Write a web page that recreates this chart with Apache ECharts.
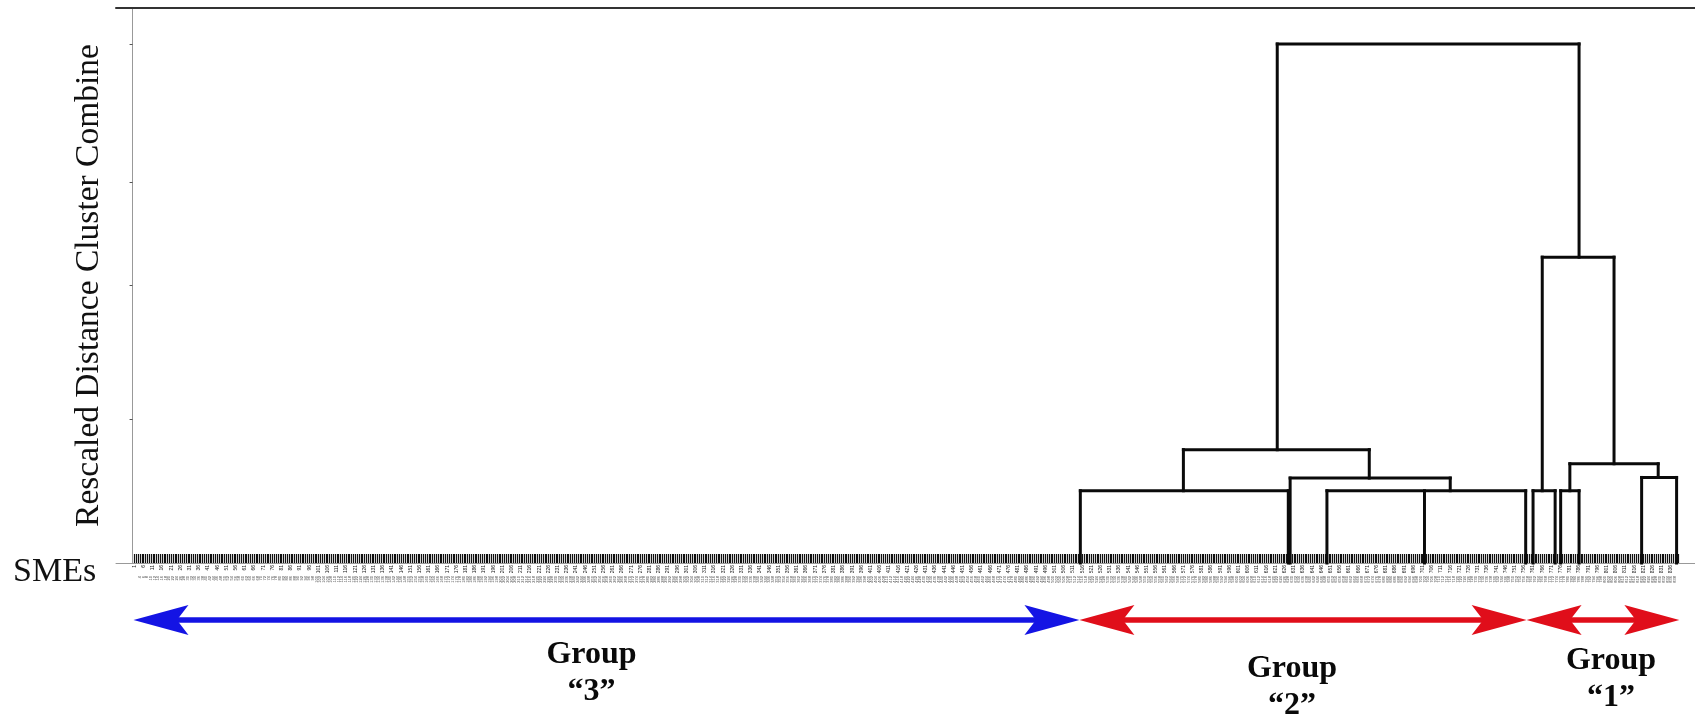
<!DOCTYPE html>
<html><head><meta charset="utf-8">
<script src="https://cdn.jsdelivr.net/npm/echarts@6/dist/echarts.min.js"></script>
<style>html,body{margin:0;padding:0;background:#fff}#c{width:1695px;height:717px}</style>
</head><body><div id="c"></div>
<script>
// ---- data ----
const leafCount = 840;
const smeLabels = Array.from({length: leafCount}, (_, i) => String(i + 1));
const leafPositions = smeLabels.map((_, i) => i + 1);

// dendrogram merge nodes (x = leaf index units, height = rescaled distance)
const nodeNames    = ['Top', 'A', 'B', 'C', 'D', 'E', 'F', 'G', 'H', 'I'];
const nodeHeights  = [25, 5.46, 3.48, 4.09, 3.48, 14.73, 3.48, 4.78, 3.48, 4.12];
const nodeStemX    = [704, 622, 571, 672, 716, 786, 766, 805, 781, 829];
const nodeChildren = [['A', 'E'], ['B', 'C'], [515, 628], [629, 'D'], [649, 702, 757],
                      ['F', 'G'], [761, 773], ['H', 'I'], [776, 786], [820, 839]];

const groupNames = ['Group\n\u201C3\u201D', 'Group\n\u201C2\u201D', 'Group\n\u201C1\u201D'];
const groupStart = [1, 515, 758];
const groupEnd   = [514, 757, 840];

const yTickValues = [6.94, 13.36, 18.34, 25];

// ---- layout / style ----
const groupColors = ['rgb(20,20,228)', 'rgb(224,14,26)', 'rgb(224,14,26)'];
const labelDx = [-15, -11, 8];
const labelDy = [16, 30, 22];
const SERIF = '"Liberation Serif", "Times New Roman", serif';

const chart = echarts.init(document.getElementById('c'), null, {renderer: 'canvas'});

function childInfo(c) {
  if (typeof c === 'string') {
    const k = nodeNames.indexOf(c);
    return {x: nodeStemX[k], h: nodeHeights[k]};
  }
  return {x: c, h: 0};
}

const lineStyle = {stroke: '#0a0a0a', lineWidth: 3, lineCap: 'square'};

chart.setOption({
  animation: false,
  backgroundColor: '#fff',
  grid: {left: 116, right: 0, top: 8, bottom: 154},
  graphic: [
    {type: 'text', left: 13, top: 555,
      style: {text: 'SMEs', fontSize: 34, fontFamily: SERIF, fill: '#111'}}
  ],
  xAxis: [
    {
      type: 'value', min: -9, max: 849, position: 'bottom',
      axisLine: {show: true, lineStyle: {color: '#999', width: 1}},
      axisTick: {show: true, inside: true, length: 9, customValues: leafPositions, lineStyle: {color: '#111', width: 1.2}},
      axisLabel: {show: true, rotate: 90, fontSize: 5, margin: 2, color: '#222',
        customValues: leafPositions.filter((v, i) => i % 5 === 0),
        formatter: v => smeLabels[Math.round(v) - 1] || ''},
      splitLine: {show: false}
    },
    {
      type: 'value', min: -9, max: 849, position: 'bottom', offset: 13,
      axisLine: {show: false}, axisTick: {show: false},
      axisLabel: {show: true, rotate: 90, fontSize: 4, margin: 0, color: '#444',
        customValues: leafPositions.filter((v, i) => i % 2 === 1),
        formatter: v => smeLabels[Math.round(v) - 1] || ''},
      splitLine: {show: false}
    },
    {
      type: 'value', min: -9, max: 849, position: 'top',
      axisLine: {show: true, lineStyle: {color: '#333', width: 2}},
      axisTick: {show: false}, axisLabel: {show: false}, splitLine: {show: false}
    }
  ],
  yAxis: {
    type: 'value', min: 0, max: 26.73,
    name: 'Rescaled Distance Cluster Combine', nameLocation: 'middle', nameGap: 10, nameRotate: 90,
    nameTextStyle: {fontSize: 33.5, fontFamily: SERIF, color: '#111'},
    axisLine: {show: true, lineStyle: {color: '#999', width: 1}},
    axisTick: {show: true, length: 3, customValues: yTickValues, lineStyle: {color: '#555'}},
    axisLabel: {show: false},
    splitLine: {show: false}
  },
  series: [
    {
      type: 'custom', name: 'dendrogram', xAxisIndex: 0,
      data: nodeNames.map((n, i) => [nodeStemX[i], nodeHeights[i]]),
      encode: {x: 0, y: 1},
      renderItem: function (params, api) {
        const i = params.dataIndex;
        const h = nodeHeights[i];
        const kids = nodeChildren[i].map(childInfo);
        const xs = kids.map(k => k.x);
        const a = api.coord([Math.min.apply(null, xs), h]);
        const b = api.coord([Math.max.apply(null, xs), h]);
        const children = [{type: 'line', shape: {x1: a[0], y1: a[1], x2: b[0], y2: b[1]}, style: lineStyle}];
        kids.forEach(k => {
          const p = api.coord([k.x, k.h]);
          const q = api.coord([k.x, h]);
          children.push({type: 'line', shape: {x1: p[0], y1: p[1], x2: q[0], y2: q[1]}, style: lineStyle});
        });
        return {type: 'group', children: children};
      }
    },
    {
      type: 'custom', name: 'groups', xAxisIndex: 0, clip: false,
      data: groupStart.map((s, i) => [s, groupEnd[i], 0]),
      encode: {x: [0, 1], y: 2},
      renderItem: function (params, api) {
        const i = params.dataIndex;
        const p1 = api.coord([groupStart[i] - 0.5, 0]);
        const p2 = api.coord([groupEnd[i] + 0.5, 0]);
        const y = p1[1] + 57;
        const L = 55, H = 14, N = 0.79;
        const color = groupColors[i];
        const x1 = p1[0], x2 = p2[0];
        const cx = (x1 + x2) / 2;
        return {
          type: 'group',
          children: [
            {type: 'line', shape: {x1: x1 + L * 0.7, y1: y, x2: x2 - L * 0.7, y2: y}, style: {stroke: color, lineWidth: 5.5}},
            {type: 'polygon', shape: {points: [[x1, y], [x1 + L, y - H - 1], [x1 + L * N, y], [x1 + L, y + H + 1]]}, style: {fill: color}},
            {type: 'polygon', shape: {points: [[x2, y], [x2 - L, y - H - 1], [x2 - L * N, y], [x2 - L, y + H + 1]]}, style: {fill: color}},
            {type: 'text', x: cx + labelDx[i], y: y + labelDy[i],
              style: {text: groupNames[i], fontSize: 32, fontWeight: 'bold', fontFamily: SERIF,
                fill: '#0a0a0a', align: 'center', verticalAlign: 'top', lineHeight: 37}}
          ]
        };
      }
    }
  ]
});
</script>
</body></html>
